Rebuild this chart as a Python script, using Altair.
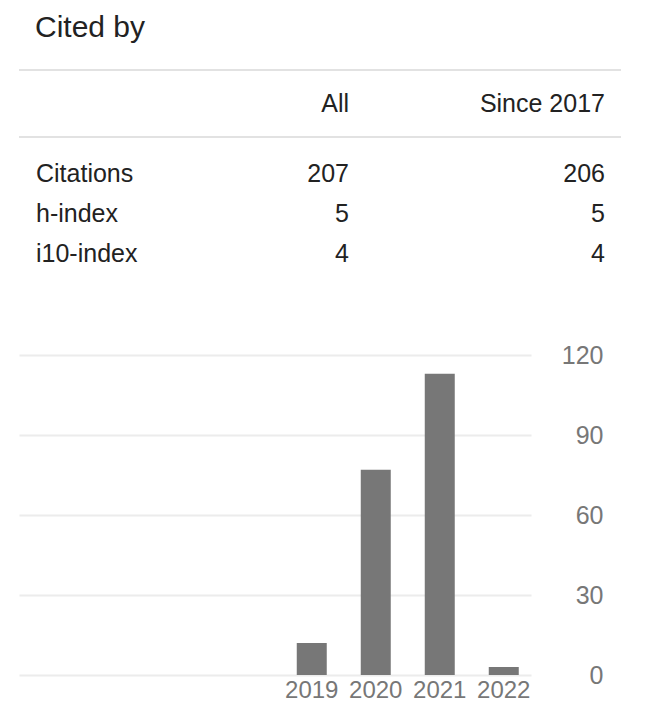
import altair as alt
import pandas as pd

# ---- data ----
header_cols = ["All", "Since 2017"]
metrics = ["Citations", "h-index", "i10-index"]
all_vals = [207, 5, 4]
since_vals = [206, 5, 4]

slot_years = ["2015", "2016", "2017", "2018", "2019", "2020", "2021", "2022"]
years = ["2019", "2020", "2021", "2022"]
cites = [12, 77, 113, 3]
y_ticks = [0, 30, 60, 90, 120]

FONT = "Liberation Sans"
TXT = "#222222"
GRAY = "#777777"

col_scale = alt.Scale(type="point", domain=header_cols, range=[330, 586], padding=0)

# ---- header row ----
hdr_df = pd.DataFrame({"col": header_cols})
hdr_text = alt.Chart(hdr_df).mark_text(
    font=FONT, fontSize=25, color=TXT, align="right", baseline="middle"
).encode(
    x=alt.X("col:N", scale=col_scale, axis=None),
    y=alt.value(33.5),
    text="col:N",
)
rule_df = pd.DataFrame({"pos": ["top", "bottom"]})
top_rule = alt.Chart(rule_df.iloc[:1]).mark_rule(color="#e2e2e2", strokeWidth=2).encode(
    x=alt.value(0), x2=alt.value(602), y=alt.value(0)
)
bot_rule = alt.Chart(rule_df.iloc[1:]).mark_rule(color="#e2e2e2", strokeWidth=2).encode(
    x=alt.value(0), x2=alt.value(602), y=alt.value(67)
)
header = alt.layer(top_rule, bot_rule, hdr_text).properties(width=602, height=67)

# ---- body rows ----
rows = []
for m, a, s in zip(metrics, all_vals, since_vals):
    rows.append({"metric": m, "col": "All", "value": a})
    rows.append({"metric": m, "col": "Since 2017", "value": s})
body_df = pd.DataFrame(rows)
row_scale = alt.Scale(type="point", domain=metrics, range=[35.5, 115.5], padding=0)

labels = alt.Chart(pd.DataFrame({"metric": metrics})).mark_text(
    font=FONT, fontSize=25, color=TXT, align="left", baseline="middle"
).encode(
    x=alt.value(17),
    y=alt.Y("metric:N", scale=row_scale, axis=None),
    text="metric:N",
)
vals = alt.Chart(body_df).mark_text(
    font=FONT, fontSize=25, color=TXT, align="right", baseline="middle"
).encode(
    x=alt.X("col:N", scale=col_scale, axis=None),
    y=alt.Y("metric:N", scale=row_scale, axis=None),
    text="value:Q",
)
body = alt.layer(labels, vals).properties(width=602, height=205)

# ---- bar chart ----
bar_df = pd.DataFrame({"year": years, "citations": cites})
bars = alt.Chart(bar_df).mark_bar(color=GRAY).encode(
    x=alt.X(
        "year:O",
        scale=alt.Scale(domain=slot_years, paddingInner=0.53125,
                        paddingOuter=0.265625, align=0.64),
        axis=alt.Axis(values=years, title=None, ticks=False, domain=False,
                      labelAngle=0, labelFont=FONT, labelFontSize=24,
                      labelColor=GRAY, labelPadding=3, grid=False),
    ),
    y=alt.Y(
        "citations:Q",
        scale=alt.Scale(domain=[0, 120], nice=False),
        axis=alt.Axis(orient="right", values=y_ticks, title=None, ticks=False,
                      domain=False, grid=True, gridColor="#ececec", gridWidth=2,
                      labelAlign="right", labelPadding=72, labelFont=FONT,
                      labelFontSize=25, labelColor=GRAY),
    ),
).properties(width=512, height=320)

chart = alt.vconcat(header, body, bars, spacing=0).properties(
    title=alt.TitleParams("Cited by", anchor="start", fontSize=30, font=FONT,
                          color=TXT, fontWeight="normal", offset=2, dx=17,
                          baseline="alphabetic"),
    padding={"left": 10, "top": 5, "right": 0, "bottom": 0},
    background="white",
).configure_view(stroke=None, strokeWidth=0)

chart.save("out.html", embed_options={"renderer": "svg", "actions": False})
